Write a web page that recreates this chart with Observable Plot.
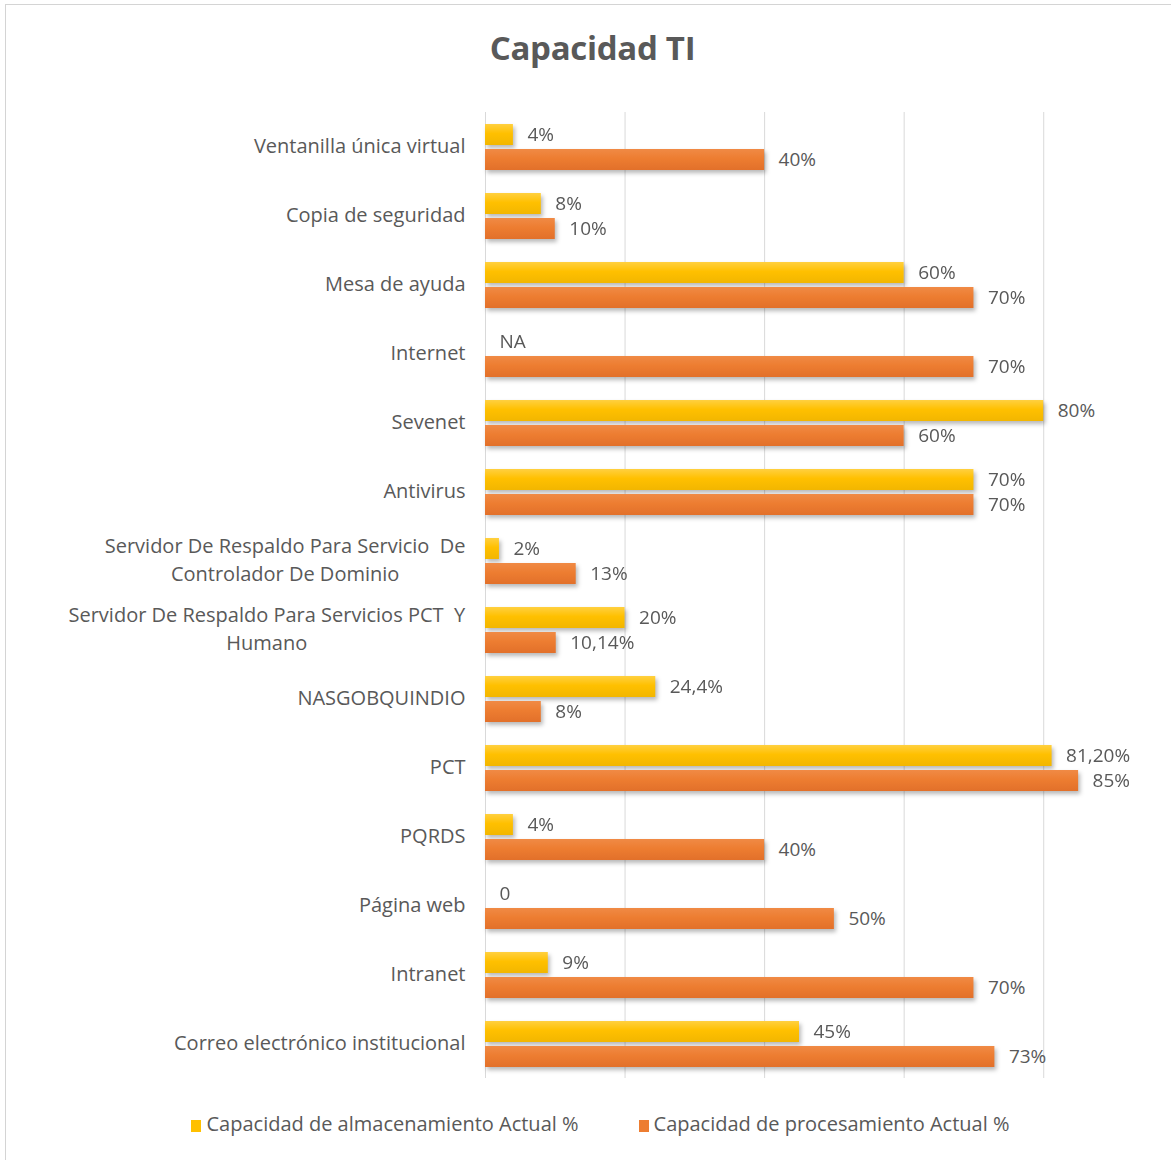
<!DOCTYPE html>
<html>
<head>
<meta charset="utf-8">
<script src="https://cdn.jsdelivr.net/npm/d3@7"></script>
<script src="https://cdn.jsdelivr.net/npm/@observablehq/plot@0.6"></script>
<style>
  html, body { margin: 0; padding: 0; background: #fff; }
  body { width: 1171px; height: 1160px; position: relative; overflow: hidden; font-family: "Open Sans", sans-serif; }
  #frame { position: absolute; left: 5px; top: 4px; width: 1300px; height: 1300px; border-top: 1px solid #d4d4d4; border-left: 1px solid #d4d4d4; }
  #title { position: absolute; left: 0; top: 25px; width: 1171px; padding-left: 14px; box-sizing: border-box; text-align: center; font-size: 33px; font-weight: 700; color: #595959; letter-spacing: -0.3px; }
  #chart { position: absolute; left: 0; top: 93px; }
  #chart svg { display: block; }
  #legend { position: absolute; left: 0; top: 1110px; width: 1171px; padding-left: 30px; box-sizing: border-box; display: flex; justify-content: center; gap: 60px; font-size: 20px; color: #595959; }
  .item { display: flex; align-items: center; gap: 5px; }
  .sw { width: 10px; height: 12px; display: inline-block; margin-top: 4px; }
  g[aria-label="bar"] { filter: drop-shadow(2px 3px 2px rgba(0,0,0,0.28)); }
</style>
</head>
<body>
<div id="frame"></div>
<div id="title">Capacidad TI</div>
<div id="chart"></div>
<div id="legend"></div>
<script>
const categories = [
  "Ventanilla única virtual",
  "Copia de seguridad",
  "Mesa de ayuda",
  "Internet",
  "Sevenet",
  "Antivirus",
  "Servidor De Respaldo Para Servicio  De\nControlador De Dominio",
  "Servidor De Respaldo Para Servicios PCT  Y\nHumano",
  "NASGOBQUINDIO",
  "PCT",
  "PQRDS",
  "Página web",
  "Intranet",
  "Correo electrónico institucional"
];
const series = ["Capacidad de almacenamiento Actual %", "Capacidad de procesamiento Actual %"];
const almacenamiento = [0.04, 0.08, 0.60, 0, 0.80, 0.70, 0.02, 0.20, 0.244, 0.812, 0.04, 0, 0.09, 0.45];
const almacenamientoLabels = ["4%", "8%", "60%", "NA", "80%", "70%", "2%", "20%", "24,4%", "81,20%", "4%", "0", "9%", "45%"];
const procesamiento = [0.40, 0.10, 0.70, 0.70, 0.60, 0.70, 0.13, 0.1014, 0.08, 0.85, 0.40, 0.50, 0.70, 0.73];
const procesamientoLabels = ["40%", "10%", "70%", "70%", "60%", "70%", "13%", "10,14%", "8%", "85%", "40%", "50%", "70%", "73%"];
const gridTicks = [0, 0.2, 0.4, 0.6, 0.8];
const colors = ["#FFC000", "#ED7D31"];

const data = [];
categories.forEach((c, i) => {
  data.push({cat: c, series: series[0], value: almacenamiento[i], label: almacenamientoLabels[i]});
  data.push({cat: c, series: series[1], value: procesamiento[i], label: procesamientoLabels[i]});
});

const textColor = "#595959";
const fontFamily = "'Open Sans', sans-serif";

const chart = Plot.plot({
  width: 1171,
  height: 996,
  marginLeft: 485,
  marginRight: 58,
  marginTop: 17,
  marginBottom: 10,
  style: {fontFamily, fontSize: "19px", color: textColor, background: "transparent", overflow: "visible"},
  x: {domain: [0, 0.9], axis: null},
  y: {domain: series, axis: null, paddingInner: 0.16, paddingOuter: 0.454},
  fy: {domain: categories, axis: null, padding: 0},
  color: {domain: series, range: ["url(#gradY)", "url(#gradO)"], type: "ordinal"},
  marks: [
    Plot.gridX(gridTicks, {stroke: "#d9d9d9", strokeOpacity: 1, strokeWidth: 1}),
    Plot.barX(data, {fy: "cat", y: "series", x: "value", fill: "series"}),
    Plot.text(data, {fy: "cat", y: "series", x: "value", text: "label", dx: 14, textAnchor: "start", fill: textColor, fontSize: 19}),
    Plot.text(categories, {fy: d => d, text: d => d, frameAnchor: "left", dx: -20, dy: -3, textAnchor: "end", lineHeight: 1.4, fill: textColor, fontSize: 20})
  ]
});

// gradients for bars
const defs = d3.select(chart).insert("defs", ":first-child");
[["gradY", "#FFD040", colors[0], "#F2B600"], ["gradO", "#F08A45", colors[1], "#E2702A"]].forEach(([id, a, b, c]) => {
  const g = defs.append("linearGradient").attr("id", id).attr("x1", 0).attr("y1", 0).attr("x2", 0).attr("y2", 1);
  g.append("stop").attr("offset", "0%").attr("stop-color", a);
  g.append("stop").attr("offset", "45%").attr("stop-color", b);
  g.append("stop").attr("offset", "100%").attr("stop-color", c);
});

document.getElementById("chart").appendChild(chart);

// centre multi-line category labels like the original
d3.select(chart).selectAll("text").each(function() {
  const tspans = this.querySelectorAll("tspan");
  if (tspans.length > 1) {
    const w = this.getBBox().width;
    this.setAttribute("text-anchor", "middle");
    tspans.forEach(t => t.setAttribute("x", -w / 2));
  }
});

// legend
const legend = d3.select("#legend");
series.forEach((s, i) => {
  const it = legend.append("div").attr("class", "item");
  it.append("span").attr("class", "sw").style("background", colors[i]);
  it.append("span").text(s);
});
</script>
</body>
</html>
